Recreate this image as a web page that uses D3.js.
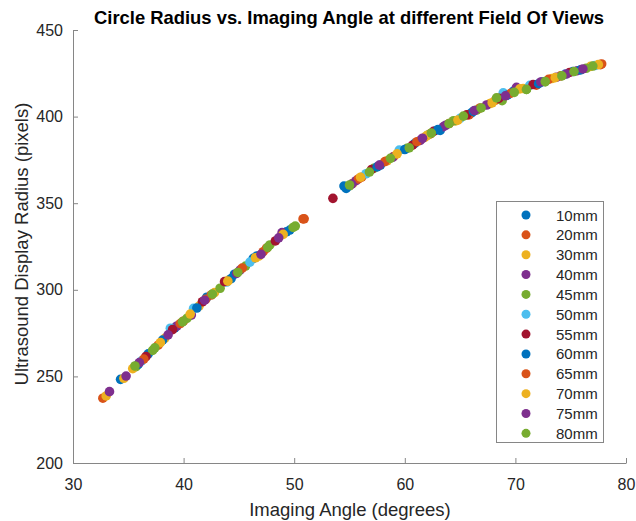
<!DOCTYPE html>
<html><head><meta charset="utf-8">
<script src="https://cdn.jsdelivr.net/npm/d3@7"></script>
<style>body{margin:0;background:#fff}svg{display:block}text{font-family:"Liberation Sans",Arial,sans-serif}</style>
</head><body>
<script>
const seriesNames = ["10mm","20mm","30mm","40mm","45mm","50mm","55mm","60mm","65mm","70mm","75mm","80mm"];
const seriesColors = ["#0072BD","#D95319","#EDB120","#7E2F8E","#77AC30","#4DBEEE","#A2142F","#0072BD","#D95319","#EDB120","#7E2F8E","#77AC30"];
const xTicks = [30,40,50,60,70,80];
const yTicks = [200,250,300,350,400,450];

const s10 = [[34.3,248.3],[36.8,263],[39.2,278],[42.1,295.7],[44.6,309],[46.3,318.2],[49.3,333.5],[54.5,359.9],[57.8,372],[60.9,384.5],[63.2,392],[66.0,402],[69.8,414.6],[72.4,420],[75.2,426]];
const s20 = [[32.7,237.4],[37.7,268],[40.0,282],[42.5,297],[47.2,322],[50.8,340.9],[56.1,365],[59.0,377],[62.3,390],[65.8,401],[68.2,409.5],[71.9,418.2],[74.1,423.5],[77.8,430.4]];
const s30 = [[33.0,238.7],[34.6,248.9],[38.3,272],[41.4,290.6],[42.8,298.4],[44.1,305.7],[46.8,319.5],[55.3,361.5],[58.4,374.5],[61.8,388],[64.6,397.5],[67.7,407.5],[70.7,416.2],[73.3,422],[76.8,429]];
const s40 = [[33.3,241.2],[34.8,250.2],[39.4,279.1],[40.7,285.4],[45.1,311.4],[48.9,333],[55.6,363],[58.9,376.5],[61.4,386.3],[63.5,394.2],[67.4,406.7],[70.1,416.9],[73.7,422.7],[75.6,426.5]];
const s45 = [[35.7,255.6],[37.2,265],[40.3,283.5],[43.3,300.9],[45.6,313.7],[47.8,325.9],[50.1,336.8],[55.0,360],[57.2,370.1],[60.2,381.7],[62.1,389.4],[64.4,397.6],[66.5,403.8],[68.8,409.2],[71.0,415.7],[72.7,420.2],[76.4,427.9]];
const s50 = [[36.2,259],[38.8,277.8],[40.9,289.3],[43.9,304.5],[46.0,316],[56.5,367],[59.5,380.7],[62.8,392],[65.0,399],[68.9,413.7],[71.3,418],[74.5,424.5],[77.2,429.5]];
const s55 = [[36.6,261.5],[39.0,277],[41.7,293.1],[43.7,304.7],[48.3,328.2],[53.5,352.8],[57.0,369.5],[60.7,383.5],[62.6,391.5],[65.6,401],[68.5,410.5],[71.6,418.5],[74.9,425.5]];
const s60 = [[35.9,257],[38.1,271],[41.2,289.5],[44.3,306.5],[46.6,319.5],[49.6,334.5],[54.7,358.5],[57.5,371],[60.0,381],[63.0,392.5],[66.2,403],[69.3,412.5],[72.1,419],[75.9,427]];
const s65 = [[36.4,260],[39.7,280.5],[42.0,294.5],[45.3,312.5],[47.5,324],[50.9,341],[55.8,364],[58.2,374],[61.1,385.5],[64.0,396],[66.8,405],[69.6,413.5],[73.0,421.5],[77.7,430]];
const s70 = [[35.4,254.5],[37.9,269.5],[40.6,286],[44.0,305],[46.5,318.5],[49.0,332],[56.0,365],[59.3,378.5],[62.0,389],[64.8,398],[67.9,408],[70.4,416],[73.6,422.5],[77.5,430]];
const s75 = [[36.0,258],[38.6,274],[41.9,294],[44.8,309.5],[47.0,320.5],[48.6,330],[55.2,361],[57.7,372],[61.6,387.5],[63.7,395],[66.3,403.5],[69.1,412],[72.3,420],[74.6,424.6],[76.1,427.5]];
const s80 = [[35.6,256],[37.4,266.5],[39.9,281.5],[42.6,297.5],[44.9,310],[47.6,324.5],[49.9,336],[55.0,360.5],[56.8,368],[58.7,375.9],[60.4,382],[62.4,390.5],[64.0,396],[65.3,400.3],[66.9,405],[68.3,410.8],[69.9,414],[71.0,415.7],[72.7,420.2],[74.2,423.5],[75.3,426],[77.0,429.2]];
const seriesData = [s10,s20,s30,s40,s45,s50,s55,s60,s65,s70,s75,s80];

const W = 636, H = 521;
const m = {left:73, right:10, top:30, bottom:58};
const svg = d3.select("body").append("svg").attr("width",W).attr("height",H);
const x = d3.scaleLinear().domain([30,80]).range([m.left, W-m.right]);
const y = d3.scaleLinear().domain([200,450]).range([H-m.bottom, m.top]);
const axisColor = "#868686", textColor = "#262626";

const gx = svg.append("g").attr("transform",`translate(0,${H-m.bottom})`)
  .call(d3.axisBottom(x).tickValues(xTicks).tickSizeInner(-5).tickSizeOuter(0).tickPadding(16));
const gy = svg.append("g").attr("transform",`translate(${m.left},0)`)
  .call(d3.axisLeft(y).tickValues(yTicks).tickSizeInner(-5).tickSizeOuter(0).tickPadding(10));
[gx,gy].forEach(g=>{
  g.select(".domain").attr("stroke",axisColor);
  g.selectAll(".tick line").attr("stroke",axisColor);
  g.selectAll(".tick text").attr("fill",textColor).style("font-size","16px").style("font-family",'"Liberation Sans",Arial,sans-serif');
});

seriesData.forEach((d,i)=>{
  svg.append("g").selectAll("circle").data(d).join("circle")
    .attr("cx",p=>x(p[0])).attr("cy",p=>y(p[1])).attr("r",4.8)
    .attr("fill",seriesColors[i]);
});

svg.append("text").attr("x",349).attr("y",24).attr("text-anchor","middle")
  .attr("font-weight","bold").attr("font-size","18.4px").attr("fill","#000")
  .text("Circle Radius vs. Imaging Angle at different Field Of Views");
svg.append("text").attr("x",350).attr("y",516).attr("text-anchor","middle")
  .attr("font-size","18.5px").attr("fill",textColor).text("Imaging Angle (degrees)");
svg.append("text").attr("transform","translate(28,244) rotate(-90)").attr("text-anchor","middle")
  .attr("font-size","18.5px").attr("fill",textColor).text("Ultrasound Display Radius (pixels)");

const lg = svg.append("g");
lg.append("rect").attr("x",496.5).attr("y",201.5).attr("width",107).attr("height",241)
  .attr("fill","#fff").attr("stroke",axisColor);
seriesNames.forEach((n,i)=>{
  const cy = 215 + i*19.85;
  lg.append("circle").attr("cx",526).attr("cy",cy).attr("r",4.5).attr("fill",seriesColors[i]);
  lg.append("text").attr("x",556).attr("y",cy+5.5).attr("font-size","15px").attr("fill",textColor).text(n);
});
</script>
</body></html>
